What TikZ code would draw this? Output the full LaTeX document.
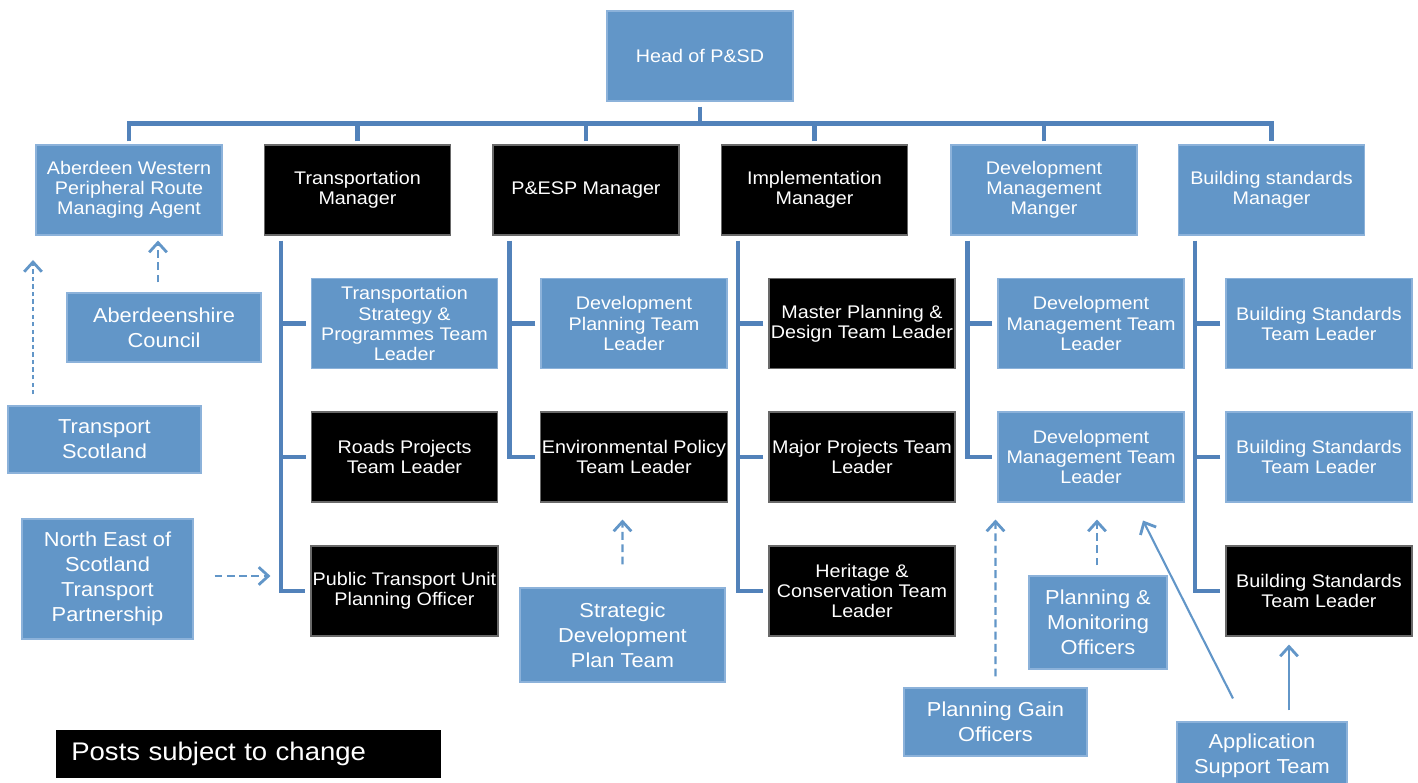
\documentclass[tikz,border=0pt]{standalone}
\usepackage{fontspec}
\setmainfont[FakeStretch=1.08]{Liberation Sans}
\usetikzlibrary{arrows.meta}
\definecolor{boxblue}{RGB}{98,150,200}
\definecolor{boxedge}{RGB}{140,178,218}
\definecolor{linkblue}{RGB}{82,130,186}
\definecolor{blackedge}{RGB}{105,105,105}
\begin{document}
\begin{tikzpicture}[
 x=0.02cm, y=-0.02cm,
 base/.style={text=white, align=center, inner sep=1pt, font=\fontsize{10.4}{11.4}\selectfont,
   minimum width=3.72cm, minimum height=1.8cm, line width=0.6pt},
 bluebox/.style={base, fill=boxblue, draw=boxedge},
 blackbox/.style={base, fill=black, draw=blackedge},
 sz/.style 2 args={minimum width={#1*0.02cm}, minimum height={#2*0.02cm}},
 sidebox/.style={text=white, align=center, inner sep=1pt, fill=boxblue, draw=boxedge,
   line width=0.6pt, font=\fontsize{11.5}{14.2}\selectfont},
 bus/.style={draw=linkblue, line width=2.6pt},
 spine/.style={draw=linkblue, line width=2.3pt},
 dasharrow/.style={draw=boxblue, line width=1.2pt, dash pattern=on 4.5pt off 2.5pt,
   -{Straight Barb[length=5.5pt,width=10pt,line width=1.6pt]}},
 solidarrow/.style={draw=boxblue, line width=1.2pt,
   -{Straight Barb[length=5.5pt,width=10pt,line width=1.6pt]}}
]
\useasboundingbox (0,0) rectangle (1418,783);
\clip (0,0) rectangle (1418,783);

% head
\node[bluebox] (head) at (700,56) {Head of P\&SD};

% top row
\node[bluebox]  (awpr) at (129,190)   {Aberdeen Western\\Peripheral Route\\Managing Agent};
\node[blackbox] (tm)   at (357.5,190) {Transportation\\Manager};
\node[blackbox] (pesp) at (586,190)   {P\&ESP Manager};
\node[blackbox] (impl) at (814.5,190) {Implementation\\Manager};
\node[bluebox]  (dmm)  at (1044,190)  {Development\\Management\\Manger};
\node[bluebox]  (bsm)  at (1271.5,190){Building standards\\Manager};

% sub boxes
\node[bluebox]  (t1) at (404.5,323.5) {Transportation\\Strategy \&\\Programmes Team\\Leader};
\node[blackbox] (t2) at (404.5,457)   {Roads Projects\\Team Leader};
\node[blackbox] (t3) at (404.5,591)   {Public Transport Unit\\Planning Officer};
\node[bluebox]  (p1) at (634,323.5)   {Development\\Planning Team\\Leader};
\node[blackbox] (p2) at (634,457)     {Environmental Policy\\Team Leader};
\node[blackbox] (i1) at (862,323.5)   {Master Planning \&\\Design Team Leader};
\node[blackbox] (i2) at (862,457)     {Major Projects Team\\Leader};
\node[blackbox] (i3) at (862,591)     {Heritage \&\\Conservation Team\\Leader};
\node[bluebox]  (d1) at (1091,323.5)  {Development\\Management Team\\Leader};
\node[bluebox]  (d2) at (1091,457)    {Development\\Management Team\\Leader};
\node[bluebox]  (b1) at (1319,323.5)  {Building Standards\\Team Leader};
\node[bluebox]  (b2) at (1319,457)    {Building Standards\\Team Leader};
\node[blackbox] (b3) at (1319,591)    {Building Standards\\Team Leader};

% side boxes
\node[sidebox, sz={194}{69}]  (ac)  at (164,327.5)  {Aberdeenshire\\Council};
\node[sidebox, sz={193}{67}]  (tsc) at (104.5,439.5){Transport\\Scotland};
\node[sidebox, sz={171}{120}] (nes) at (107.5,579)  {North East of\\Scotland\\Transport\\Partnership};
\node[sidebox, sz={205}{94}]  (sdp) at (622.5,635)  {Strategic\\Development\\Plan Team};
\node[sidebox, sz={183}{68}]  (pg)  at (995.5,722)  {Planning Gain\\Officers};
\node[sidebox, sz={138}{93}]  (pm)  at (1098,622.5) {Planning \&\\Monitoring\\Officers};
\node[sidebox, sz={170}{68}]  (ast) at (1262,756)   {Application\\Support Team};

\node[fill=black, text=white, anchor=west, text width=7.1cm, inner xsep=0.3cm, inner ysep=0pt,
  minimum height=0.96cm, align=left, font=\fontsize{14.5}{16}\selectfont] (posts) at (56,754) {Posts subject to change};

% bus
\draw[bus] ([shift={(0,-3)}]awpr.north) -- ++(0,-18) -| ([shift={(0,-3)}]bsm.north);
\draw[bus] ([shift={(0,5)}]head.south) -- ++(0,18);
\draw[bus] ([shift={(0,-3)}]tm.north) -- ++(0,-18);
\draw[bus] ([shift={(0,-3)}]pesp.north) -- ++(0,-18);
\draw[bus] ([shift={(0,-3)}]impl.north) -- ++(0,-18);
\draw[bus] ([shift={(0,-3)}]dmm.north) -- ++(0,-18);

% spines
\coordinate (tmS) at ([shift={(17,5)}]tm.south west);
\draw[spine] (tmS) |- ([shift={(-5,0)}]t3.west);
\draw[spine] ([shift={(-5,0)}]t1.west) -- (t1.west -| tmS);
\draw[spine] ([shift={(-5,0)}]t2.west) -- (t2.west -| tmS);

\coordinate (peS) at ([shift={(17,5)}]pesp.south west);
\draw[spine] (peS) |- ([shift={(-5,0)}]p2.west);
\draw[spine] ([shift={(-5,0)}]p1.west) -- (p1.west -| peS);

\coordinate (imS) at ([shift={(17,5)}]impl.south west);
\draw[spine] (imS) |- ([shift={(-5,0)}]i3.west);
\draw[spine] ([shift={(-5,0)}]i1.west) -- (i1.west -| imS);
\draw[spine] ([shift={(-5,0)}]i2.west) -- (i2.west -| imS);

\coordinate (dmS) at ([shift={(17,5)}]dmm.south west);
\draw[spine] (dmS) |- ([shift={(-5,0)}]d2.west);
\draw[spine] ([shift={(-5,0)}]d1.west) -- (d1.west -| dmS);

\coordinate (bsS) at ([shift={(17,5)}]bsm.south west);
\draw[spine] (bsS) |- ([shift={(-5,0)}]b3.west);
\draw[spine] ([shift={(-5,0)}]b1.west) -- (b1.west -| bsS);
\draw[spine] ([shift={(-5,0)}]b2.west) -- (b2.west -| bsS);

% arrows
\draw[dasharrow] ([shift={(-6,-10)}]ac.north) -- ([shift={(29,5)}]awpr.south);
\coordinate (tsend) at (33,260);
\draw[dasharrow, line width=1pt, dash pattern=on 2.5pt off 1.8pt] ([shift={(-71.5,-11)}]tsc.north) -- (tsend);
\draw[dasharrow] ([shift={(21,-3)}]nes.east) -- ([shift={(-40,-15)}]t3.west);
\draw[dasharrow] ([shift={(0,-23)}]sdp.north) -- ([shift={(-11.5,17)}]p2.south);
\draw[dasharrow] ([shift={(0,-11)}]pg.north) -- ([shift={(-95.5,17)}]d2.south);
\draw[dasharrow] ([shift={(-1,-10)}]pm.north) -- ([shift={(6,17)}]d2.south);
\draw[solidarrow] ([shift={(-29,-23)}]ast.north) -- ([shift={(52,18)}]d2.south);
\draw[solidarrow, line width=1.5pt] ([shift={(27,-11)}]ast.north) -- ([shift={(-30,8)}]b3.south);
\end{tikzpicture}
\end{document}
